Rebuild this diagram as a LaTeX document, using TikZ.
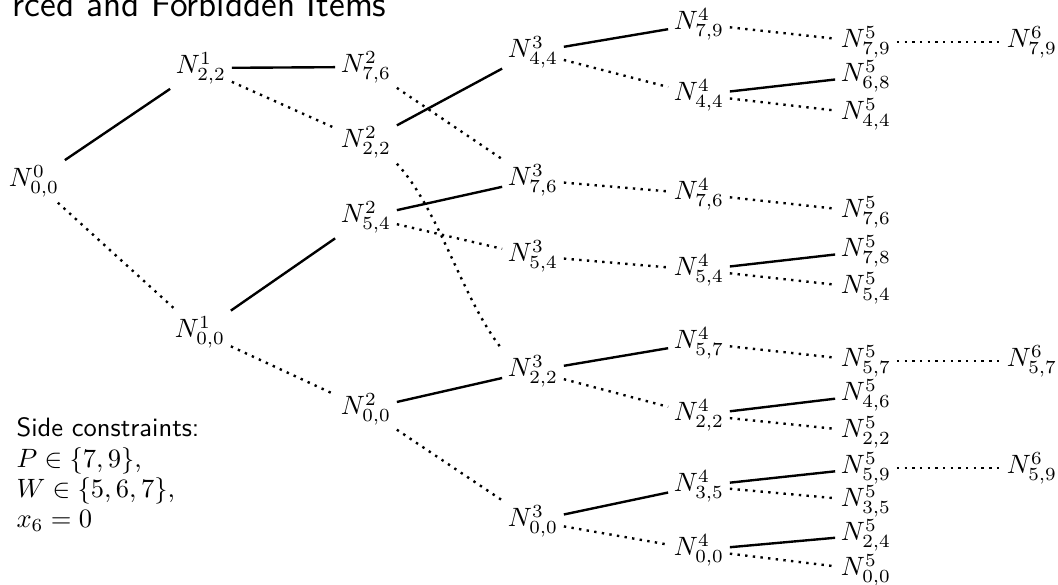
\documentclass[tikz,border=0pt]{standalone}
\begin{document}
\begin{tikzpicture}[x=0.3771pt,y=-0.3771pt,
  nd/.style={inner sep=2pt},
  yes/.style={line width=0.9pt},
  no/.style={line width=0.9pt,dotted},
  lbl/.style={anchor=base west,inner sep=0pt}]
\useasboundingbox[fill=white] (0,0) rectangle (1058,585);

% heading and side constraints
\node[anchor=base east,inner sep=0pt,font=\sffamily\fontsize{13.6}{16}\selectfont] (title) at (387,17) {rced and Forbidden Items};
\node[lbl,font=\sffamily] (side) at (16,437) {Side constraints:};
\node[lbl] (c1) at (16,468) {$P\in\{7,9\}$,};
\node[lbl] (c2) at (16,498) {$W\in\{5,6,7\}$,};
\node[lbl] (c3) at (16,528) {$x_6=0$};

% level 0-2
\node[nd] (n0-00) at (34,181) {$N^{0}_{0,0}$};
\node[nd] (n1-22) at (201,68) {$N^{1}_{2,2}$};
\node[nd] (n1-00) at (200,332) {$N^{1}_{0,0}$};
\node[nd] (n2-76) at (366,67) {$N^{2}_{7,6}$};
\node[nd] (n2-22) at (366,142) {$N^{2}_{2,2}$};
\node[nd] (n2-54) at (366,217) {$N^{2}_{5,4}$};
\node[nd] (n2-00) at (366,409) {$N^{2}_{0,0}$};
% level 3
\node[nd] (n3-44) at (533,52) {$N^{3}_{4,4}$};
\node[nd] (n3-76) at (533,180) {$N^{3}_{7,6}$};
\node[nd] (n3-54) at (533,256) {$N^{3}_{5,4}$};
\node[nd] (n3-22) at (533,371) {$N^{3}_{2,2}$};
\node[nd] (n3-00) at (533,521) {$N^{3}_{0,0}$};
% level 4
\node[nd] (n4-79) at (699,24) {$N^{4}_{7,9}$};
\node[nd] (n4-44) at (699,95) {$N^{4}_{4,4}$};
\node[nd] (n4-76) at (699,194) {$N^{4}_{7,6}$};
\node[nd] (n4-54) at (699,270) {$N^{4}_{5,4}$};
\node[nd] (n4-57) at (699,343) {$N^{4}_{5,7}$};
\node[nd] (n4-22) at (699,415) {$N^{4}_{2,2}$};
\node[nd] (n4-35) at (699,486) {$N^{4}_{3,5}$};
\node[nd] (n4-00) at (699,550) {$N^{4}_{0,0}$};
% level 5
\node[nd] (n5-79) at (866,42) {$N^{5}_{7,9}$};
\node[nd] (n5-68) at (866,76) {$N^{5}_{6,8}$};
\node[nd] (n5-44) at (866,114) {$N^{5}_{4,4}$};
\node[nd] (n5-76) at (866,212) {$N^{5}_{7,6}$};
\node[nd] (n5-78) at (866,251) {$N^{5}_{7,8}$};
\node[nd] (n5-54) at (866,288) {$N^{5}_{5,4}$};
\node[nd] (n5-57) at (866,361) {$N^{5}_{5,7}$};
\node[nd] (n5-46) at (866,395) {$N^{5}_{4,6}$};
\node[nd] (n5-22) at (866,432) {$N^{5}_{2,2}$};
\node[nd] (n5-59) at (866,468) {$N^{5}_{5,9}$};
\node[nd] (n5-35) at (866,501) {$N^{5}_{3,5}$};
\node[nd] (n5-24) at (866,535) {$N^{5}_{2,4}$};
\node[nd] (n5-00) at (866,570) {$N^{5}_{0,0}$};
% level 6
\node[nd] (n6-79) at (1032,42) {$N^{6}_{7,9}$};
\node[nd] (n6-57) at (1032,361) {$N^{6}_{5,7}$};
\node[nd] (n6-59) at (1032,468) {$N^{6}_{5,9}$};

% branches: solid = item forced in, dotted = item left out
\draw[yes] (n0-00) -- (n1-22);
\draw[no]  (n0-00) -- (n1-00);
\draw[yes] (n1-22) -- (n2-76);
\draw[no]  (n1-22) -- (n2-22);
\draw[yes] (n1-00) -- (n2-54);
\draw[no]  (n1-00) -- (n2-00);

\draw[no]  (n2-76) -- (n3-76);
\draw[yes] (n2-22) -- (n3-44);
\draw[no]  (n2-22.south east) .. controls +(42,45) and +(-40,-50) .. (n3-22.north west);
\draw[yes] (n2-54) -- (n3-76);
\draw[no]  (n2-54) -- (n3-54);
\draw[yes] (n2-00) -- (n3-22);
\draw[no]  (n2-00) -- (n3-00);

\draw[yes] (n3-44) -- (n4-79);
\draw[no]  (n3-44) -- (n4-44);
\draw[no]  (n3-76) -- (n4-76);
\draw[no]  (n3-54) -- (n4-54);
\draw[yes] (n3-22) -- (n4-57);
\draw[no]  (n3-22) -- (n4-22);
\draw[yes] (n3-00) -- (n4-35);
\draw[no]  (n3-00) -- (n4-00);

\draw[no]  (n4-79) -- (n5-79);
\draw[yes] (n4-44) -- (n5-68);
\draw[no]  (n4-44) -- (n5-44);
\draw[no]  (n4-76) -- (n5-76);
\draw[yes] (n4-54) -- (n5-78);
\draw[no]  (n4-54) -- (n5-54);
\draw[no]  (n4-57) -- (n5-57);
\draw[yes] (n4-22) -- (n5-46);
\draw[no]  (n4-22) -- (n5-22);
\draw[yes] (n4-35) -- (n5-59);
\draw[no]  (n4-35) -- (n5-35);
\draw[yes] (n4-00) -- (n5-24);
\draw[no]  (n4-00) -- (n5-00);

\draw[no]  (n5-79) -- (n6-79);
\draw[no]  (n5-57) -- (n6-57);
\draw[no]  (n5-59) -- (n6-59);
\end{tikzpicture}
\end{document}
